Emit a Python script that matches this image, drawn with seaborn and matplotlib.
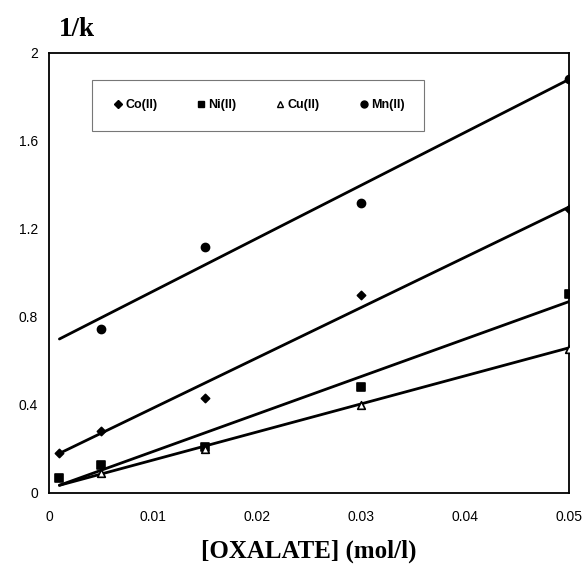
import numpy as np
import pandas as pd
import matplotlib
matplotlib.use("Agg")
import matplotlib.pyplot as plt
import seaborn as sns
from matplotlib.lines import Line2D

# ---- data ----
series = ["Co(II)", "Ni(II)", "Cu(II)", "Mn(II)"]

co_x = [0.001, 0.005, 0.015, 0.03, 0.05]
co_y = [0.18, 0.28, 0.43, 0.90, 1.29]

ni_x = [0.001, 0.005, 0.015, 0.03, 0.05]
ni_y = [0.068, 0.127, 0.21, 0.48, 0.905]

cu_x = [0.005, 0.015, 0.03, 0.05]
cu_y = [0.09, 0.20, 0.40, 0.655]

mn_x = [0.005, 0.015, 0.03, 0.05]
mn_y = [0.745, 1.12, 1.32, 1.88]

# trend lines (end points)
fit_x = [0.001, 0.05]
co_fit = [0.18, 1.30]
ni_fit = [0.035, 0.87]
cu_fit = [0.035, 0.66]
mn_fit = [0.70, 1.88]

x_ticks = [0, 0.01, 0.02, 0.03, 0.04, 0.05]
x_ticklabels = ["0", "0.01", "0.02", "0.03", "0.04", "0.05"]
y_ticks = [0, 0.4, 0.8, 1.2, 1.6, 2.0]
y_ticklabels = ["0", "0.4", "0.8", "1.2", "1.6", "2"]

pts = pd.concat([
    pd.DataFrame({"x": co_x, "y": co_y, "ion": "Co(II)"}),
    pd.DataFrame({"x": ni_x, "y": ni_y, "ion": "Ni(II)"}),
    pd.DataFrame({"x": cu_x, "y": cu_y, "ion": "Cu(II)"}),
    pd.DataFrame({"x": mn_x, "y": mn_y, "ion": "Mn(II)"}),
], ignore_index=True)

fits = pd.concat([
    pd.DataFrame({"x": fit_x, "y": co_fit, "ion": "Co(II)"}),
    pd.DataFrame({"x": fit_x, "y": ni_fit, "ion": "Ni(II)"}),
    pd.DataFrame({"x": fit_x, "y": cu_fit, "ion": "Cu(II)"}),
    pd.DataFrame({"x": fit_x, "y": mn_fit, "ion": "Mn(II)"}),
], ignore_index=True)

sns.set_theme(style="white")
plt.rcParams["font.family"] = ["Liberation Sans", "DejaVu Sans"]
plt.rcParams["text.color"] = "black"

fig = plt.figure(figsize=(5.88, 5.70), dpi=100)
ax = fig.add_axes([49/588, 1-493/570, (569-49)/588, (493-53)/570])

sns.lineplot(data=fits, x="x", y="y", units="ion", estimator=None,
             color="black", linewidth=2.0, ax=ax, legend=False)

markers = {"Co(II)": "D", "Ni(II)": "s", "Cu(II)": "^", "Mn(II)": "o"}
sizes = {"Co(II)": 4.2, "Ni(II)": 5.5, "Cu(II)": 5.5, "Mn(II)": 5.8}
for ion in series:
    d = pts[pts["ion"] == ion]
    face = "white" if ion == "Cu(II)" else "black"
    sns.scatterplot(data=d, x="x", y="y", marker=markers[ion],
                    s=sizes[ion]**2, color=face, edgecolor="black",
                    linewidth=1.2, ax=ax, legend=False, zorder=5)

ax.set_xlim(0, 0.05)
ax.set_ylim(0, 2)
ax.set_xticks(x_ticks)
ax.set_xticklabels(x_ticklabels)
ax.set_yticks(y_ticks)
ax.set_yticklabels(y_ticklabels)
ax.tick_params(axis="both", labelsize=10, length=3, width=0.8,
               direction="in", colors="black", labelcolor="black", pad=12)
ax.tick_params(axis="y", pad=8)
for s in ax.spines.values():
    s.set_color("black")
    s.set_linewidth(1.3)
ax.set_xlabel("")
ax.set_ylabel("")

fig.text(59/588, 1-30/570, "1/k", family="Liberation Serif", color="black",
         fontweight="bold", fontsize=19.5, va="center", ha="left")
fig.text(309/588, 1-551/570, "[OXALATE] (mol/l)", family="Liberation Serif",
         color="black", fontweight="bold", fontsize=18, va="center", ha="center")

handles = []
for ion in series:
    face = "white" if ion == "Cu(II)" else "black"
    handles.append(Line2D([], [], linestyle="none", marker=markers[ion],
                          markersize=5 if ion != "Co(II)" else 4,
                          markerfacecolor=face, markeredgecolor="black",
                          label=ion))
leg = ax.legend(handles=handles, ncol=4, loc="upper left",
                bbox_to_anchor=((92-49)/520, (493-80)/440),
                frameon=True, fancybox=False, edgecolor="#555555",
                handletextpad=0.1, columnspacing=3.0, borderpad=1.55,
                borderaxespad=0, handlelength=1.0,
                prop={"weight": "bold", "size": 9})
leg.get_frame().set_linewidth(0.8)
for t in leg.get_texts():
    t.set_color("black")

fig.savefig("out.png", dpi=100, facecolor="white")
